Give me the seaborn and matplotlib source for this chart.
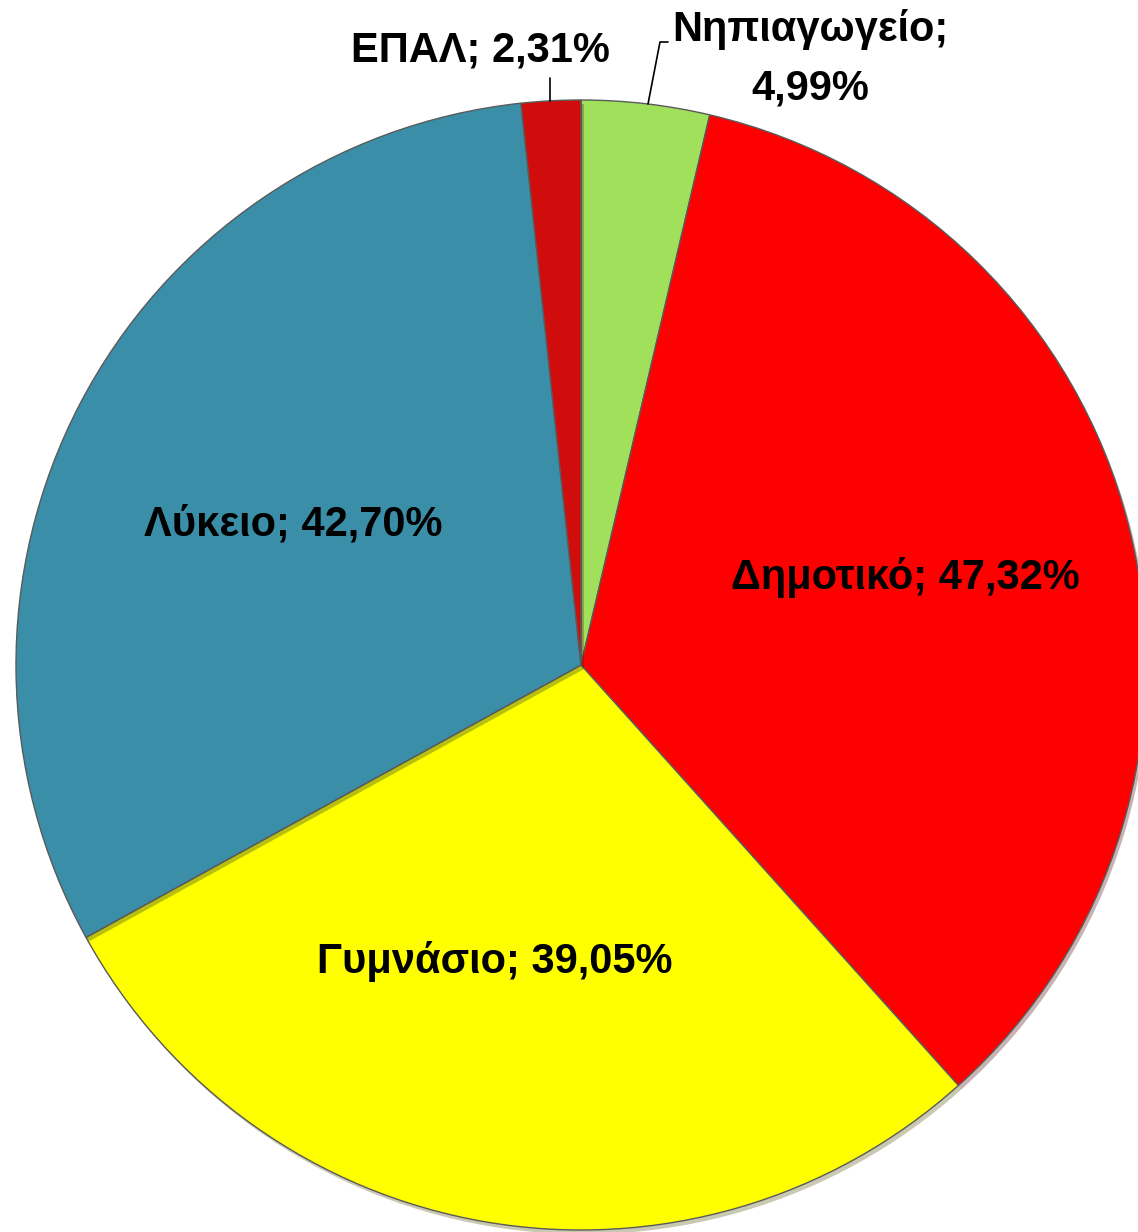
import matplotlib
matplotlib.use("Agg")
import matplotlib.pyplot as plt
import matplotlib.patheffects as pe
import seaborn as sns

labels = ["Νηπιαγωγείο", "Δημοτικό", "Γυμνάσιο", "Λύκειο", "ΕΠΑΛ"]
values = [4.99, 47.32, 39.05, 42.70, 2.31]
value_text = ["4,99%", "47,32%", "39,05%", "42,70%", "2,31%"]
colors = ["#A0E05A", "#FF0000", "#FFFF00", "#3A8EA8", "#D00C0C"]

sns.set_theme(style="white")
plt.rcParams["font.family"] = ["Liberation Sans", "DejaVu Sans"]

W, H = 1138, 1232
fig = plt.figure(figsize=(W / 100, H / 100), dpi=100)
ax = fig.add_axes([0, 0, 1, 1])

cx, cy, r = 581, H - 665, 565
wedges, _ = ax.pie(values, colors=colors, startangle=90, counterclock=False,
                   center=(cx, cy), radius=r, frame=True,
                   wedgeprops=dict(edgecolor="#5a5a5a", linewidth=1.0))
for w in wedges:
    w.set_path_effects([pe.SimplePatchShadow(offset=(2, -3), alpha=0.3), pe.Normal()])
ax.set_xlim(0, W)
ax.set_ylim(0, H)
ax.set_aspect("equal")
ax.axis("off")

fs = 30
kw = dict(fontsize=fs, fontweight="bold", color="black", ha="center", va="center")

# labels inside the slices
ax.text(905, H - 577, f"{labels[1]}; {value_text[1]}", **kw)
ax.text(495, H - 962, f"{labels[2]}; {value_text[2]}", **kw)
ax.text(293, H - 525, f"{labels[3]}; {value_text[3]}", **kw)

# outside labels with leader lines
ax.text(480, H - 50, f"{labels[4]}; {value_text[4]}", **kw)
ax.plot([550, 550], [H - 78, H - 101], color="black", lw=1.2)
ax.text(810, H - 30, f"{labels[0]};", **kw)
ax.text(810, H - 88, value_text[0], **kw)
ax.plot([648, 660, 668], [H - 104, H - 42, H - 42], color="black", lw=1.2)

fig.savefig("out.png", dpi=100, facecolor="white")
